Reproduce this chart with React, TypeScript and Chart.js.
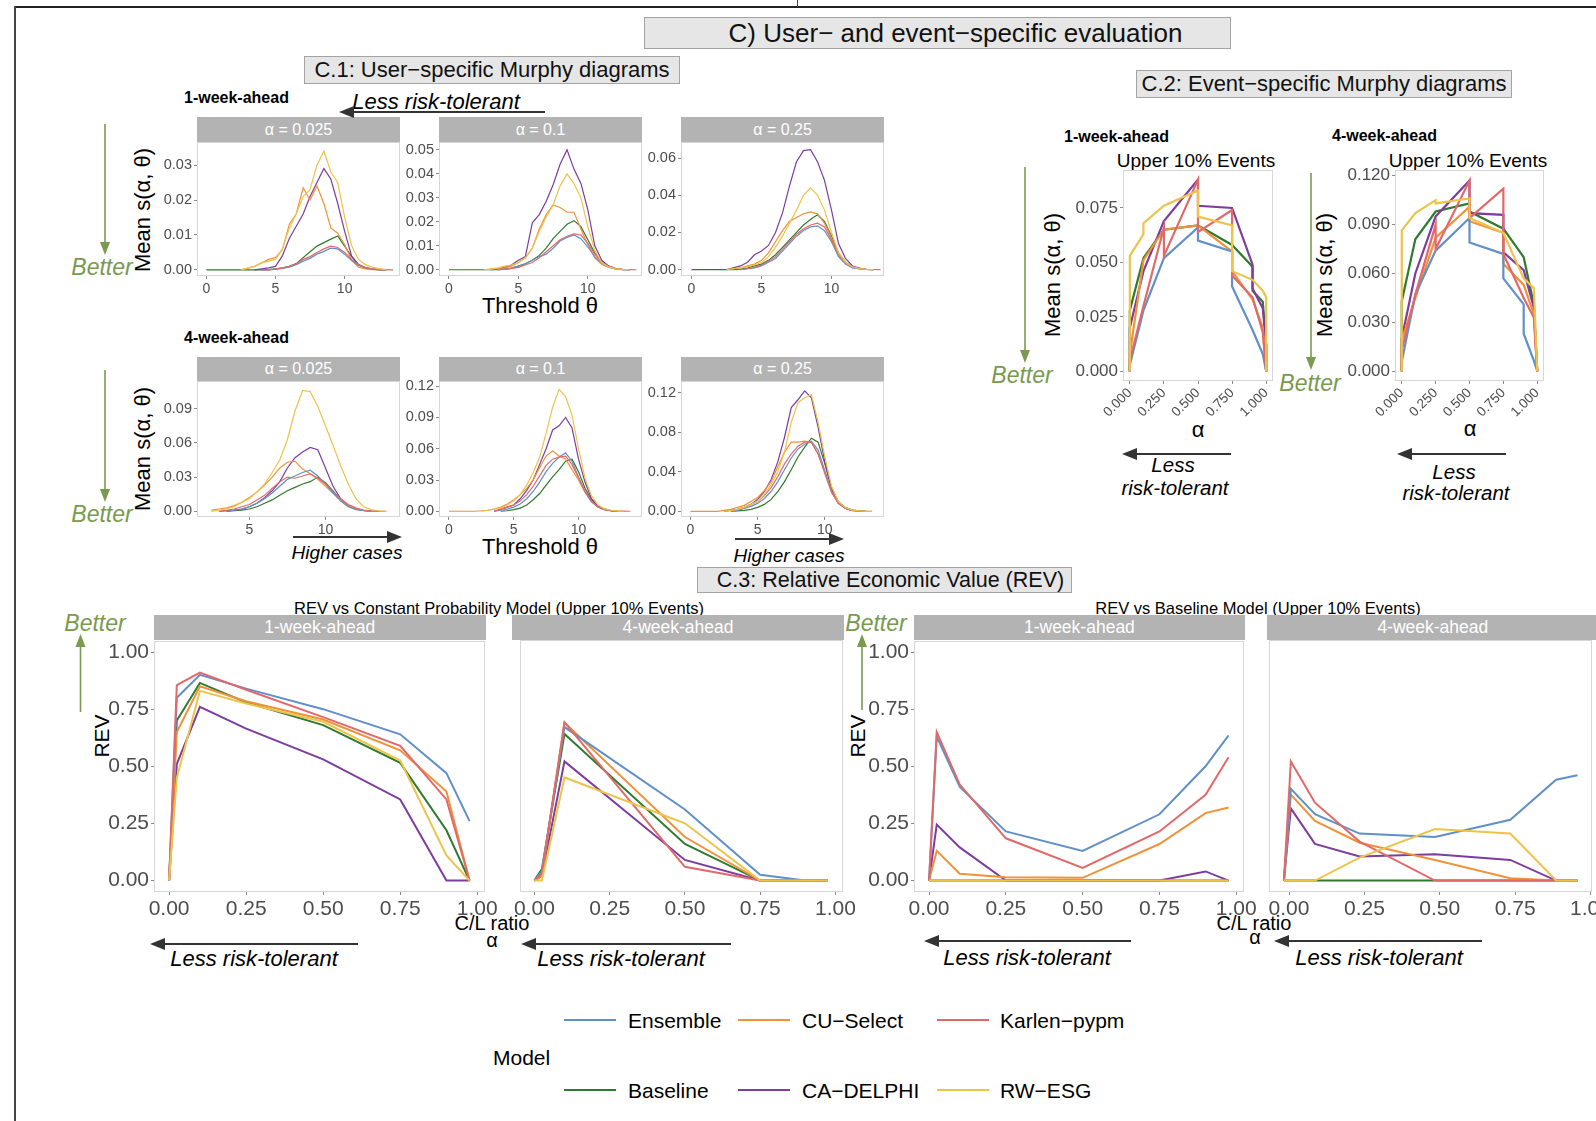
import React, { useEffect, useRef } from "react";
import { Chart, registerables } from "chart.js";
Chart.register(...registerables);

const FONT = "'Liberation Sans', Arial, Helvetica, sans-serif";
const TICK_COLOR = "#4d4d4d";
const GREEN = "#7a9a4f";
const DARK = "#333333";
const _ = null;

// ---------- models ----------
const MODELS = ["Ensemble", "CU-Select", "Karlen-pypm", "Baseline", "CA-DELPHI", "RW-ESG"];
const MODEL_COLORS = ["#6190c8", "#f0923a", "#e2696a", "#2f7a2f", "#7d3c9e", "#eec34a"];
// drawing priority (first = on top)
const DRAW_ORDER = ["RW-ESG", "Karlen-pypm", "Ensemble", "CU-Select", "CA-DELPHI", "Baseline"];
const LEGEND_ROW1 = ["Ensemble", "CU-Select", "Karlen-pypm"];
const LEGEND_ROW2 = ["Baseline", "CA-DELPHI", "RW-ESG"];

// ---------- C.1 user-specific Murphy diagrams ----------
const THETA = [0, 0.5, 1, 1.5, 2, 2.5, 3, 3.5, 4, 4.5, 5, 5.5, 6, 6.5, 7, 7.5, 8, 8.5, 9, 9.5, 10, 10.5, 11, 11.5, 12, 12.5, 13, 13.5, 14];
const C1_X_TICKS = [0, 5, 10];
const C1_X_TICKS_W4A025 = [5, 10];
const C1_Y_TICKS_W1A025 = [0, 0.01, 0.02, 0.03];
const C1_Y_TICKS_W1A1 = [0, 0.01, 0.02, 0.03, 0.04, 0.05];
const C1_Y_TICKS_W1A25 = [0, 0.02, 0.04, 0.06];
const C1_Y_TICKS_W4A025 = [0, 0.03, 0.06, 0.09];
const C1_Y_TICKS_W4A1 = [0, 0.03, 0.06, 0.09, 0.12];
const C1_Y_TICKS_W4A25 = [0, 0.04, 0.08, 0.12];
const C1_STRIPS = ["α = 0.025", "α = 0.1", "α = 0.25"];

// 1-week, alpha 0.025
const w1a025_ens = [_, _, _, _, _, _, _, _, 0, 0, .0002, .0004, .0008, .0015, .0025, .0033, .0045, .0053, .0062, .006, .0045, .0027, .0013, .0006, .0003, .0001, 0, _, _];
const w1a025_bas = [0, 0, 0, 0, 0, 0, 0, 0, 0, .0001, .0003, .0006, .001, .0018, .0035, .0052, .0068, .0078, .0088, .0097, .0068, .0038, .0015, .0006, .0002, .0001, 0, _, _];
const w1a025_kar = [_, _, _, _, _, _, _, _, 0, 0, .0002, .0005, .001, .0017, .003, .0038, .005, .006, .0068, .0064, .005, .003, .0015, .0007, .0003, .0002, .0001, 0, _];
const w1a025_cu = [_, _, _, _, _, 0, .0005, .001, .002, .003, .0035, .0058, .013, .016, .0235, .02, .024, .019, .012, .0105, .0072, .0028, .0008, .0003, .0001, 0, 0, _, _];
const w1a025_del = [_, _, _, _, _, _, _, 0, .0003, .0006, .001, .004, .009, .0125, .016, .021, .025, .029, .026, .019, .011, .004, .0015, .0005, .0002, 0, 0, _, _];
const w1a025_rw = [_, _, _, _, _, 0, .0005, .001, .002, .0025, .003, .006, .012, .016, .021, .023, .03, .034, .028, .025, .015, .007, .003, .0015, .0008, .0003, .0001, _, _];

// 1-week, alpha 0.1
const w1a1_ens = [_, _, _, _, _, _, _, 0, .0003, .0008, .0015, .0025, .004, .0055, .0065, .009, .012, .0135, .0145, .013, .0095, .0055, .0028, .0012, .0004, .0001, 0, _, _];
const w1a1_bas = [0, 0, 0, 0, 0, 0, 0, 0, .0002, .0006, .0015, .0025, .004, .006, .009, .013, .016, .019, .0205, .018, .0125, .007, .0035, .0015, .0005, .0001, 0, _, _];
const w1a1_kar = [_, _, _, _, _, _, _, 0, .0003, .0006, .001, .002, .003, .005, .0075, .01, .0125, .014, .015, .0145, .011, .0065, .0032, .0013, .0005, .0002, .0001, 0, _];
const w1a1_cu = [_, _, _, _, _, 0, .0003, .0005, .0008, .0015, .003, .005, .009, .017, .023, .027, .026, .024, .024, .017, .0105, .005, .0022, .001, .0004, .0001, 0, _, _];
const w1a1_del = [_, _, _, _, _, _, 0, .0003, .001, .002, .004, .0055, .0196, .023, .0286, .0355, .044, .05, .042, .036, .025, .01, .004, .0015, .0005, .0002, 0, _, _];
const w1a1_rw = [_, _, _, _, _, 0, .0003, .0008, .0015, .002, .003, .005, .009, .016, .022, .027, .035, .04, .036, .03, .018, .008, .003, .0012, .0005, .0002, 0, _, _];

// 1-week, alpha 0.25
const w1a25_ens = [_, _, _, _, _, _, _, 0, .0005, .001, .002, .004, .006, .01, .014, .018, .021, .023, .0235, .021, .015, .007, .003, .001, .0004, .0001, 0, _, _];
const w1a25_bas = [0, 0, 0, 0, 0, 0, 0, .0003, .001, .002, .003, .005, .008, .012, .016, .02, .024, .027, .0295, .026, .018, .009, .004, .0015, .0005, .0001, 0, _, _];
const w1a25_kar = [_, _, _, _, _, _, _, 0, .0005, .0012, .0025, .0045, .007, .011, .015, .019, .022, .024, .025, .023, .016, .008, .0035, .0013, .0005, .0002, .0001, 0, _];
const w1a25_cu = [_, _, _, _, _, 0, .0005, .001, .002, .003, .005, .009, .015, .021, .026, .028, .03, .031, .03, .025, .017, .008, .0035, .0012, .0005, .0001, 0, _, _];
const w1a25_del = [_, _, _, _, _, 0, .001, .002, .004, .008, .01, .013, .02, .0305, .045, .058, .064, .0645, .058, .048, .032, .014, .006, .002, .0008, .0002, 0, _, _];
const w1a25_rw = [_, _, _, _, _, 0, .0005, .001, .0015, .0025, .004, .007, .012, .018, .025, .032, .04, .044, .04, .032, .02, .009, .004, .0015, .0006, .0002, 0, _, _];

// 4-week, alpha 0.025
const w4a025_ens = [_, _, _, _, _, _, _, 0, .001, .002, .004, .007, .011, .016, .022, .028, .031, .034, .036, .031, .024, .016, .009, .004, .0015, .0005, .0001, _, _];
const w4a025_bas = [_, _, _, _, _, _, _, 0, .0005, .001, .002, .004, .007, .01, .014, .018, .021, .024, .026, .03, .025, .018, .01, .005, .002, .0007, .0002, _, _];
const w4a025_kar = [_, _, _, _, _, _, 0, .0008, .002, .004, .006, .01, .014, .02, .026, .03, .029, .031, .033, .029, .024, .017, .011, .006, .003, .001, .0004, .0001, 0];
const w4a025_cu = [_, _, _, _, _, .001, .002, .003, .005, .008, .012, .017, .023, .03, .038, .043, .044, .037, .033, .028, .022, .016, .01, .005, .002, .0008, .0002, 0, _];
const w4a025_del = [_, _, _, _, _, _, 0, .0005, .001, .002, .004, .007, .012, .018, .026, .038, .047, .052, .056, .054, .038, .022, .011, .005, .002, .0008, .0002, 0, _];
const w4a025_rw = [_, _, _, _, _, 0, .001, .002, .004, .008, .011, .017, .024, .034, .045, .063, .088, .106, .105, .092, .075, .058, .04, .024, .011, .004, .0015, .0005, 0];

// 4-week, alpha 0.1
const w4a1_ens = [_, _, _, _, _, _, _, 0, .001, .002, .004, .007, .012, .019, .028, .038, .046, .052, .056, .048, .033, .019, .009, .004, .0015, .0005, 0, _, _];
const w4a1_bas = [_, _, _, _, _, _, _, _, 0, .0005, .0015, .003, .006, .011, .017, .025, .033, .04, .048, .05, .038, .022, .011, .005, .002, .0006, 0, _, _];
const w4a1_kar = [_, _, _, _, _, _, _, 0, .002, .004, .006, .01, .016, .024, .034, .044, .05, .052, .053, .045, .032, .019, .01, .004, .0015, .0005, .0002, .0001, 0];
const w4a1_cu = [0, 0, 0, 0, 0, .0005, .001, .002, .004, .007, .011, .016, .022, .03, .042, .053, .058, .053, .05, .04, .03, .018, .009, .004, .0015, .0005, 0, _, _];
const w4a1_del = [_, _, _, _, _, _, _, 0, .002, .004, .006, .012, .02, .03, .045, .06, .078, .082, .09, .08, .05, .028, .012, .005, .002, .0007, 0, _, _];
const w4a1_rw = [_, _, _, _, _, 0, .001, .002, .003, .006, .01, .016, .025, .037, .052, .075, .1, .117, .11, .092, .06, .032, .015, .006, .0025, .001, .0003, 0, _];

// 4-week, alpha 0.25
const w4a25_ens = [_, _, _, _, _, _, 0, .001, .003, .005, .008, .013, .02, .03, .042, .054, .063, .068, .071, .062, .041, .02, .008, .003, .001, .0003, 0, _, _];
const w4a25_bas = [_, _, _, _, _, _, 0, .0005, .001, .002, .004, .007, .012, .02, .03, .042, .055, .065, .074, .07, .048, .024, .01, .004, .0015, .0005, 0, _, _];
const w4a25_kar = [_, _, _, _, _, 0, .001, .002, .004, .007, .01, .016, .024, .035, .048, .058, .066, .07, .07, .058, .038, .019, .008, .003, .001, .0004, .0001, 0, _];
const w4a25_cu = [0, 0, 0, 0, 0, .001, .002, .004, .006, .01, .014, .021, .03, .045, .06, .07, .07, .071, .07, .058, .04, .02, .009, .003, .001, .0003, 0, _, _];
const w4a25_del = [_, _, _, _, _, 0, .001, .002, .004, .007, .012, .02, .032, .05, .075, .105, .113, .122, .115, .085, .05, .022, .009, .003, .001, .0003, 0, _, _];
const w4a25_rw = [_, _, _, _, _, 0, .001, .002, .004, .007, .01, .017, .027, .04, .06, .09, .11, .115, .118, .09, .055, .025, .01, .004, .0015, .0005, .0001, 0, _];

// ---------- C.2 event-specific Murphy diagrams (alpha, mean score) ----------
const C2_X_TICKS = [0, 0.25, 0.5, 0.75, 1];
const C2_Y_TICKS_W1 = [0, 0.025, 0.05, 0.075];
const C2_Y_TICKS_W4 = [0, 0.03, 0.06, 0.09, 0.12];

const c2w1_ens_a = [0, 0, 0.1, 0.25, 0.5, 0.5, 0.75, 0.75, 0.9, 0.975, 1];
const c2w1_ens_v = [0, 0.003, 0.028, 0.052, 0.066, 0.06, 0.055, 0.039, 0.019, 0.008, 0];
const c2w1_bas_a = [0, 0, 0.1, 0.25, 0.5, 0.75, 0.9, 0.9, 0.975, 1, 1];
const c2w1_bas_v = [0, 0.028, 0.052, 0.065, 0.067, 0.058, 0.048, 0.037, 0.032, 0.012, 0];
const c2w1_del_a = [0, 0, 0.1, 0.25, 0.5, 0.5, 0.75, 0.9, 0.9, 0.975, 1, 1];
const c2w1_del_v = [0, 0.02, 0.046, 0.069, 0.088, 0.076, 0.075, 0.049, 0.038, 0.029, 0.012, 0];
const c2w1_kar_a = [0, 0, 0.1, 0.25, 0.25, 0.5, 0.5, 0.75, 0.75, 0.9, 0.975, 1];
const c2w1_kar_v = [0, 0.005, 0.03, 0.066, 0.053, 0.088, 0.064, 0.074, 0.044, 0.034, 0.018, 0];
const c2w1_cu_a = [0, 0, 0.1, 0.25, 0.5, 0.75, 0.75, 0.9, 0.975, 1];
const c2w1_cu_v = [0, 0.008, 0.051, 0.065, 0.067, 0.055, 0.046, 0.033, 0.02, 0];
const c2w1_rw_a = [0, 0, 0.1, 0.1, 0.25, 0.5, 0.5, 0.75, 0.75, 0.9, 0.975, 1, 1];
const c2w1_rw_v = [0, 0.053, 0.063, 0.068, 0.076, 0.083, 0.071, 0.067, 0.046, 0.042, 0.037, 0.034, 0];

const c2w4_ens_a = [0, 0, 0.1, 0.25, 0.5, 0.5, 0.75, 0.75, 0.9, 0.9, 0.975, 1];
const c2w4_ens_v = [0, 0.006, 0.047, 0.074, 0.094, 0.079, 0.072, 0.057, 0.041, 0.023, 0.0065, 0];
const c2w4_bas_a = [0, 0, 0.1, 0.25, 0.5, 0.5, 0.75, 0.9, 0.975, 1];
const c2w4_bas_v = [0, 0.043, 0.081, 0.098, 0.103, 0.098, 0.0875, 0.07, 0.041, 0];
const c2w4_del_a = [0, 0, 0.1, 0.25, 0.5, 0.5, 0.75, 0.75, 0.9, 0.975, 1];
const c2w4_del_v = [0, 0.02, 0.06, 0.095, 0.117, 0.097, 0.096, 0.073, 0.062, 0.039, 0];
const c2w4_kar_a = [0, 0, 0.1, 0.25, 0.25, 0.5, 0.5, 0.75, 0.75, 0.9, 0.975, 1];
const c2w4_kar_v = [0, 0.013, 0.047, 0.09, 0.075, 0.117, 0.094, 0.112, 0.072, 0.045, 0.033, 0];
const c2w4_cu_a = [0, 0, 0.1, 0.25, 0.5, 0.5, 0.75, 0.75, 0.9, 0.975, 1];
const c2w4_cu_v = [0, 0.019, 0.045, 0.082, 0.101, 0.092, 0.085, 0.066, 0.053, 0.035, 0];
const c2w4_rw_a = [0, 0, 0.1, 0.25, 0.25, 0.5, 0.5, 0.75, 0.9, 0.975, 1];
const c2w4_rw_v = [0, 0.0865, 0.097, 0.105, 0.103, 0.106, 0.094, 0.085, 0.057, 0.051, 0];

// ---------- C.3 Relative Economic Value ----------
const C3_TICKS = [0, 0.25, 0.5, 0.75, 1];
const C3_STRIPS = ["1-week-ahead", "4-week-ahead"];
const REV_ALPHA = [0, 0.025, 0.1, 0.25, 0.5, 0.75, 0.9, 0.975];
const REV_ALPHA_CONST_W4 = [0, 0.025, 0.1, 0.5, 0.75, 0.9, 0.975];
const REV_ALPHA_BASE_W4 = [-0.017, 0.006, 0.086, 0.234, 0.484, 0.734, 0.886, 0.957];

const revc_w1_ens = [0, 0.8, 0.9, 0.84, 0.75, 0.64, 0.47, 0.26];
const revc_w1_bas = [0, 0.7, 0.865, 0.78, 0.68, 0.515, 0.22, 0];
const revc_w1_del = [0, 0.51, 0.76, 0.665, 0.53, 0.355, 0, 0];
const revc_w1_kar = [0, 0.855, 0.91, 0.835, 0.715, 0.59, 0.355, 0];
const revc_w1_cu = [0, 0.65, 0.85, 0.785, 0.705, 0.57, 0.39, 0];
const revc_w1_rw = [0, 0.45, 0.83, 0.775, 0.695, 0.525, 0.11, 0];

const revc_w4_ens = [0, 0.04, 0.67, 0.31, 0.025, 0, 0];
const revc_w4_bas = [0, 0.05, 0.64, 0.16, 0, 0, 0];
const revc_w4_del = [0, 0.02, 0.52, 0.09, 0, 0, 0];
const revc_w4_kar = [0, 0.03, 0.69, 0.06, 0, 0, 0];
const revc_w4_cu = [0, 0.02, 0.69, 0.19, 0, 0, 0];
const revc_w4_rw = [0, 0, 0.45, 0.25, 0, 0, 0];

const revb_w1_ens = [0, 0.63, 0.41, 0.215, 0.13, 0.29, 0.5, 0.635];
const revb_w1_bas = [0, 0, 0, 0, 0, 0, 0, 0];
const revb_w1_del = [0, 0.245, 0.145, 0, 0, 0, 0.04, 0];
const revb_w1_kar = [0, 0.65, 0.42, 0.185, 0.055, 0.215, 0.375, 0.54];
const revb_w1_cu = [0, 0.13, 0.03, 0.015, 0.012, 0.16, 0.295, 0.32];
const revb_w1_rw = [0, 0, 0, 0, 0, 0, 0, 0];

const revb_w4_ens = [0, 0.4, 0.29, 0.205, 0.19, 0.265, 0.44, 0.46];
const revb_w4_bas = [0, 0, 0, 0, 0, 0, 0, 0];
const revb_w4_del = [0, 0.315, 0.16, 0.105, 0.115, 0.09, 0, 0];
const revb_w4_kar = [0, 0.52, 0.34, 0.17, 0, 0, 0, 0];
const revb_w4_cu = [0, 0.375, 0.26, 0.165, 0.09, 0.01, 0, 0];
const revb_w4_rw = [0, 0, 0, 0.1, 0.225, 0.205, 0, 0];

// ---------- helpers ----------
const colorOf = (name) => MODEL_COLORS[MODELS.indexOf(name)];

function series(byModel) {
  return DRAW_ORDER.map((name) => ({ name, xs: byModel[name][0], ys: byModel[name][1] }));
}
function sameX(xs, ens, cu, kar, bas, del, rw) {
  return series({
    "Ensemble": [xs, ens], "CU-Select": [xs, cu], "Karlen-pypm": [xs, kar],
    "Baseline": [xs, bas], "CA-DELPHI": [xs, del], "RW-ESG": [xs, rw],
  });
}

const framePlugin = {
  id: "frame",
  beforeDatasetsDraw(chart) {
    const { ctx, chartArea } = chart;
    ctx.save();
    ctx.strokeStyle = "#d6d6d6";
    ctx.lineWidth = 1;
    ctx.strokeRect(Math.round(chartArea.left) + 0.5, Math.round(chartArea.top) + 0.5,
      Math.round(chartArea.right - chartArea.left) - 1, Math.round(chartArea.bottom - chartArea.top) - 1);
    ctx.restore();
  },
};

const PAD = 14;

function PlotPanel(p) {
  const ref = useRef(null);
  const L = Math.round(p.box[0]), T = Math.round(p.box[1]), R = Math.round(p.box[2]), B = Math.round(p.box[3]);
  const yW = p.showY ? p.yW : 0;
  const cl = L - yW, ct = T - PAD, cw = yW + (R - L) + PAD, ch = PAD + (B - T) + p.xH;
  useEffect(() => {
    const tickGrid = { display: true, drawOnChartArea: false, drawTicks: true, tickLength: 3, color: "#8a8a8a", lineWidth: 1 };
    const chart = new Chart(ref.current, {
      type: "line",
      data: {
        datasets: p.series.map((s) => ({
          label: s.name,
          data: s.xs.map((x, i) => ({ x, y: s.ys[i] })),
          borderColor: colorOf(s.name),
          backgroundColor: colorOf(s.name),
          borderWidth: p.lw,
          pointRadius: 0,
          tension: 0,
          fill: false,
          spanGaps: false,
        })),
      },
      options: {
        animation: false,
        responsive: false,
        maintainAspectRatio: false,
        events: [],
        layout: { autoPadding: false, padding: { left: 0, top: PAD, right: PAD, bottom: 0 } },
        plugins: { legend: { display: false }, tooltip: { enabled: false }, title: { display: false } },
        scales: {
          x: {
            type: "linear",
            min: p.xMin,
            max: p.xMax,
            afterBuildTicks: (s) => { s.ticks = p.xTicks.map((v) => ({ value: v })); },
            afterFit: (s) => { s.height = p.xH; },
            grid: tickGrid,
            border: { display: false },
            ticks: {
              autoSkip: false,
              padding: p.xPad ?? 2,
              color: TICK_COLOR,
              font: { family: FONT, size: p.xFont },
              minRotation: p.rot || 0,
              maxRotation: p.rot || 0,
              callback: (v) => Number(v).toFixed(p.xDec),
            },
          },
          y: {
            type: "linear",
            display: !!p.showY,
            min: p.yMin,
            max: p.yMax,
            afterBuildTicks: (s) => { s.ticks = p.yTicks.map((v) => ({ value: v })); },
            afterFit: (s) => { s.width = yW; },
            grid: tickGrid,
            border: { display: false },
            ticks: {
              autoSkip: false,
              padding: 2,
              color: TICK_COLOR,
              font: { family: FONT, size: p.yFont },
              callback: (v) => Number(v).toFixed(p.yDec),
            },
          },
        },
      },
      plugins: [framePlugin],
    });
    return () => chart.destroy();
  }, []);
  return (
    <canvas ref={ref} width={cw} height={ch}
      style={{ position: "absolute", left: cl, top: ct, width: cw, height: ch }} />
  );
}

function Txt({ x, y, size, children, anchor = "middle", weight = "normal", italic = false, color = "#000", rotate = 0, family = FONT }) {
  const tx = anchor === "middle" ? "-50%" : anchor === "end" ? "-100%" : "0";
  return (
    <div style={{
      position: "absolute", left: x, top: y,
      transform: `translate(${tx},-50%)` + (rotate ? ` rotate(${rotate}deg)` : ""),
      fontSize: size, fontWeight: weight, fontStyle: italic ? "italic" : "normal",
      color, whiteSpace: "nowrap", lineHeight: 1, fontFamily: family,
    }}>{children}</div>
  );
}

function Box({ l, t, r, b, size, shift = 0, children }) {
  return (
    <div style={{
      position: "absolute", left: l, top: t, width: r - l, height: b - t, boxSizing: "border-box",
      background: "#e6e6e6", border: "1px solid #a3a3a3", display: "flex", alignItems: "center",
      justifyContent: "center", fontSize: size, color: "#111", whiteSpace: "nowrap",
      paddingLeft: shift > 0 ? shift * 2 : 0,
    }}>{children}</div>
  );
}

function Strip({ l, t, r, b, size, children }) {
  return (
    <div style={{
      position: "absolute", left: l, top: t, width: r - l, height: b - t, background: "#b3b3b3",
      color: "#fff", display: "flex", alignItems: "center", justifyContent: "center",
      fontSize: size, whiteSpace: "nowrap", overflow: "hidden",
    }}>{children}</div>
  );
}

function Arrow({ x1, y1, x2, y2, color, w, head, headW }) {
  const dx = x2 - x1, dy = y2 - y1, len = Math.hypot(dx, dy);
  const ux = dx / len, uy = dy / len;
  const bx = x2 - ux * head, by = y2 - uy * head;
  const px = (-uy * headW) / 2, py = (ux * headW) / 2;
  return (
    <g>
      <line x1={x1} y1={y1} x2={bx + ux} y2={by + uy} stroke={color} strokeWidth={w} />
      <polygon points={`${x2},${y2} ${bx + px},${by + py} ${bx - px},${by - py}`} fill={color} />
    </g>
  );
}

// ---------- panel definitions ----------
const C1_ROW1 = { t: 142, b: 276, st: 117 };
const C1_ROW2 = { t: 381, b: 517, st: 357 };
const C1_COLS = [[197, 400], [439, 642], [681, 884]];

const c1Panels = [
  { row: C1_ROW1, col: 0, xMin: -0.67, xMax: 14, yMin: -0.00175, yMax: 0.0366, xTicks: C1_X_TICKS, yTicks: C1_Y_TICKS_W1A025,
    series: sameX(THETA, w1a025_ens, w1a025_cu, w1a025_kar, w1a025_bas, w1a025_del, w1a025_rw) },
  { row: C1_ROW1, col: 1, xMin: -0.72, xMax: 13.9, yMin: -0.0026, yMax: 0.0533, xTicks: C1_X_TICKS, yTicks: C1_Y_TICKS_W1A1,
    series: sameX(THETA, w1a1_ens, w1a1_cu, w1a1_kar, w1a1_bas, w1a1_del, w1a1_rw) },
  { row: C1_ROW1, col: 2, xMin: -0.75, xMax: 13.75, yMin: -0.0034, yMax: 0.0686, xTicks: C1_X_TICKS, yTicks: C1_Y_TICKS_W1A25,
    series: sameX(THETA, w1a25_ens, w1a25_cu, w1a25_kar, w1a25_bas, w1a25_del, w1a25_rw) },
  { row: C1_ROW2, col: 0, xMin: 1.56, xMax: 14.9, yMin: -0.005, yMax: 0.1143, xTicks: C1_X_TICKS_W4A025, yTicks: C1_Y_TICKS_W4A025,
    series: sameX(THETA, w4a025_ens, w4a025_cu, w4a025_kar, w4a025_bas, w4a025_del, w4a025_rw) },
  { row: C1_ROW2, col: 1, xMin: -0.77, xMax: 14.9, yMin: -0.0055, yMax: 0.125, xTicks: C1_X_TICKS, yTicks: C1_Y_TICKS_W4A1,
    series: sameX(THETA, w4a1_ens, w4a1_cu, w4a1_kar, w4a1_bas, w4a1_del, w4a1_rw) },
  { row: C1_ROW2, col: 2, xMin: -0.7, xMax: 14.4, yMin: -0.0058, yMax: 0.132, xTicks: C1_X_TICKS, yTicks: C1_Y_TICKS_W4A25,
    series: sameX(THETA, w4a25_ens, w4a25_cu, w4a25_kar, w4a25_bas, w4a25_del, w4a25_rw) },
];

const c2Panels = [
  { box: [1123, 170, 1273, 381], yMin: -0.0044, yMax: 0.0924, yTicks: C2_Y_TICKS_W1,
    series: series({
      "Ensemble": [c2w1_ens_a, c2w1_ens_v], "CU-Select": [c2w1_cu_a, c2w1_cu_v], "Karlen-pypm": [c2w1_kar_a, c2w1_kar_v],
      "Baseline": [c2w1_bas_a, c2w1_bas_v], "CA-DELPHI": [c2w1_del_a, c2w1_del_v], "RW-ESG": [c2w1_rw_a, c2w1_rw_v],
    }) },
  { box: [1395, 170, 1544, 381], yMin: -0.006, yMax: 0.1235, yTicks: C2_Y_TICKS_W4,
    series: series({
      "Ensemble": [c2w4_ens_a, c2w4_ens_v], "CU-Select": [c2w4_cu_a, c2w4_cu_v], "Karlen-pypm": [c2w4_kar_a, c2w4_kar_v],
      "Baseline": [c2w4_bas_a, c2w4_bas_v], "CA-DELPHI": [c2w4_del_a, c2w4_del_v], "RW-ESG": [c2w4_rw_a, c2w4_rw_v],
    }) },
];

const C3_T = 640, C3_B = 892, C3_ST = 615;
const c3Panels = [
  { l: 154, r: 485.5, showY: true, xMin: -0.049, xMax: 1.024, strip: C3_STRIPS[0],
    series: sameX(REV_ALPHA, revc_w1_ens, revc_w1_cu, revc_w1_kar, revc_w1_bas, revc_w1_del, revc_w1_rw) },
  { l: 512.3, r: 843.8, showY: false, xMin: -0.049, xMax: 1.024, strip: C3_STRIPS[1],
    series: sameX(REV_ALPHA_CONST_W4, revc_w4_ens, revc_w4_cu, revc_w4_kar, revc_w4_bas, revc_w4_del, revc_w4_rw) },
  { l: 913.8, r: 1245, showY: true, xMin: -0.049, xMax: 1.024, strip: C3_STRIPS[0],
    series: sameX(REV_ALPHA, revb_w1_ens, revb_w1_cu, revb_w1_kar, revb_w1_bas, revb_w1_del, revb_w1_rw) },
  { l: 1267.2, r: 1598.5, showY: false, xMin: -0.066, xMax: 1.007, strip: C3_STRIPS[1],
    series: sameX(REV_ALPHA_BASE_W4, revb_w4_ens, revb_w4_cu, revb_w4_kar, revb_w4_bas, revb_w4_del, revb_w4_rw) },
];

export default function App() {
  const blackArrow = { color: DARK, w: 2.2, head: 15, headW: 12 };
  const greenArrow = { color: GREEN, w: 1.6, head: 13, headW: 10 };
  return (
    <div style={{ position: "absolute", left: 0, top: 0, width: 1596, height: 1121, overflow: "hidden", background: "#fff", fontFamily: FONT, color: "#000" }}>
      {/* frame */}
      <div style={{ position: "absolute", left: 14, top: 6, width: 1582, height: 2, background: "#222" }} />
      <div style={{ position: "absolute", left: 14, top: 6, width: 1.5, height: 1115, background: "#444" }} />
      <div style={{ position: "absolute", left: 797, top: 0, width: 1, height: 7, background: "#444" }} />

      {/* titles */}
      <Box l={644} t={17} r={1231} b={49} size={26} shift={18}>C) User− and event−specific evaluation</Box>
      <Box l={304} t={56} r={680} b={84} size={22}>C.1: User−specific Murphy diagrams</Box>
      <Box l={1136} t={70} r={1512} b={98} size={22}>C.2: Event−specific Murphy diagrams</Box>
      <Box l={697} t={567} r={1072} b={593} size={21.5} shift={6}>C.3: Relative Economic Value (REV)</Box>

      {/* ---- C.1 ---- */}
      <Txt x={184} y={98} size={16} anchor="start" weight="bold">1-week-ahead</Txt>
      <Txt x={184} y={338} size={16} anchor="start" weight="bold">4-week-ahead</Txt>
      <Txt x={436} y={102} size={22} italic>Less risk-tolerant</Txt>
      <Txt x={102} y={267} size={23} italic color={GREEN}>Better</Txt>
      <Txt x={102} y={514} size={23} italic color={GREEN}>Better</Txt>
      <Txt x={143} y={210} size={22} rotate={-90}>Mean s(α, θ)</Txt>
      <Txt x={143} y={449} size={22} rotate={-90}>Mean s(α, θ)</Txt>
      <Txt x={540} y={306} size={22}>Threshold θ</Txt>
      <Txt x={540} y={547} size={22}>Threshold θ</Txt>
      <Txt x={347} y={552} size={19} italic>Higher cases</Txt>
      <Txt x={789} y={555} size={19} italic>Higher cases</Txt>
      {c1Panels.map((p, i) => (
        <Strip key={"s1" + i} l={C1_COLS[p.col][0]} t={p.row.st} r={C1_COLS[p.col][1]} b={p.row.t} size={16}>{C1_STRIPS[p.col]}</Strip>
      ))}
      {c1Panels.map((p, i) => (
        <PlotPanel key={"p1" + i} box={[C1_COLS[p.col][0], p.row.t, C1_COLS[p.col][1], p.row.b]} showY yW={46} xH={22}
          xMin={p.xMin} xMax={p.xMax} yMin={p.yMin} yMax={p.yMax} xTicks={p.xTicks} yTicks={p.yTicks}
          xDec={0} yDec={2} xFont={14} yFont={14.5} lw={1.2} series={p.series} />
      ))}

      {/* ---- C.2 ---- */}
      <Txt x={1064} y={137} size={16} anchor="start" weight="bold">1-week-ahead</Txt>
      <Txt x={1332} y={136} size={16} anchor="start" weight="bold">4-week-ahead</Txt>
      <Txt x={1196} y={160} size={19} >Upper 10% Events</Txt>
      <Txt x={1468} y={160} size={19}>Upper 10% Events</Txt>
      <Txt x={1053} y={275} size={22} rotate={-90}>Mean s(α, θ)</Txt>
      <Txt x={1325} y={275} size={22} rotate={-90}>Mean s(α, θ)</Txt>
      <Txt x={1022} y={375} size={23} italic color={GREEN}>Better</Txt>
      <Txt x={1310} y={383} size={23} italic color={GREEN}>Better</Txt>
      <Txt x={1198} y={430} size={22}>α</Txt>
      <Txt x={1470} y={429} size={22}>α</Txt>
      <Txt x={1173} y={465} size={20.5} italic>Less</Txt>
      <Txt x={1175} y={488} size={20.5} italic>risk-tolerant</Txt>
      <Txt x={1454} y={472} size={20.5} italic>Less</Txt>
      <Txt x={1456} y={493} size={20.5} italic>risk-tolerant</Txt>
      {c2Panels.map((p, i) => (
        <PlotPanel key={"p2" + i} box={p.box} showY yW={58} xH={52} rot={45} xPad={1}
          xMin={-0.05} xMax={1.05} yMin={p.yMin} yMax={p.yMax} xTicks={C2_X_TICKS} yTicks={p.yTicks}
          xDec={3} yDec={3} xFont={13.5} yFont={17} lw={2.2} series={p.series} />
      ))}

      {/* ---- C.3 ---- */}
      <Txt x={499} y={608} size={16.5}>REV vs Constant Probability Model (Upper 10% Events)</Txt>
      <Txt x={1258} y={608} size={16.5}>REV vs Baseline Model (Upper 10% Events)</Txt>
      <Txt x={95} y={623} size={23} italic color={GREEN}>Better</Txt>
      <Txt x={876} y={623} size={23} italic color={GREEN}>Better</Txt>
      <Txt x={101} y={736} size={21} rotate={-90}>REV</Txt>
      <Txt x={857} y={736} size={21} rotate={-90}>REV</Txt>
      <Txt x={492} y={923} size={20}>C/L ratio</Txt>
      <Txt x={492} y={940} size={20}>α</Txt>
      <Txt x={1254} y={923} size={20}>C/L ratio</Txt>
      <Txt x={1255} y={937} size={20}>α</Txt>
      <Txt x={254} y={959} size={22} italic>Less risk-tolerant</Txt>
      <Txt x={621} y={959} size={22} italic>Less risk-tolerant</Txt>
      <Txt x={1027} y={958} size={22} italic>Less risk-tolerant</Txt>
      <Txt x={1379} y={958} size={22} italic>Less risk-tolerant</Txt>
      {c3Panels.map((p, i) => (
        <Strip key={"s3" + i} l={p.l} t={C3_ST} r={p.r} b={C3_T} size={17.5}>{p.strip}</Strip>
      ))}
      {c3Panels.map((p, i) => (
        <PlotPanel key={"p3" + i} box={[p.l, C3_T, p.r, C3_B]} showY={p.showY} yW={52} xH={32}
          xMin={p.xMin} xMax={p.xMax} yMin={-0.05} yMax={1.05} xTicks={C3_TICKS} yTicks={C3_TICKS}
          xDec={2} yDec={2} xFont={21} yFont={21} lw={2} series={p.series} />
      ))}

      {/* ---- legend ---- */}
      <Txt x={493} y={1057} size={21} anchor="start">Model</Txt>
      {[LEGEND_ROW1, LEGEND_ROW2].map((row, ri) =>
        row.map((name, ci) => {
          const keyX = [564, 738, 937][ci];
          const txtX = [628, 802, 1000][ci];
          const y = ri === 0 ? 1020 : 1090;
          return (
            <React.Fragment key={name}>
              <div style={{ position: "absolute", left: keyX, top: y - 1, width: 52, height: 2, background: colorOf(name) }} />
              <Txt x={txtX} y={y} size={21} anchor="start">{name.replace("-", "−")}</Txt>
            </React.Fragment>
          );
        })
      )}

      {/* arrows */}
      <svg width={1596} height={1121} style={{ position: "absolute", left: 0, top: 0, pointerEvents: "none" }}>
        <Arrow x1={545} y1={112} x2={339} y2={112} {...blackArrow} />
        <Arrow x1={293} y1={537} x2={402} y2={537} {...blackArrow} />
        <Arrow x1={735} y1={539} x2={844} y2={539} {...blackArrow} />
        <Arrow x1={105} y1={124} x2={105} y2={255} {...greenArrow} />
        <Arrow x1={105} y1={370} x2={105} y2={502} {...greenArrow} />
        <Arrow x1={1025} y1={167} x2={1025} y2={363} {...greenArrow} />
        <Arrow x1={1311} y1={173} x2={1311} y2={370} {...greenArrow} />
        <Arrow x1={1231} y1={454} x2={1122} y2={454} {...blackArrow} />
        <Arrow x1={1506} y1={454} x2={1397} y2={454} {...blackArrow} />
        <Arrow x1={80.5} y1={712} x2={80.5} y2={634} {...greenArrow} />
        <Arrow x1={862} y1={710} x2={862} y2={634} {...greenArrow} />
        <Arrow x1={358} y1={944} x2={150} y2={944} {...blackArrow} />
        <Arrow x1={731} y1={944} x2={521} y2={944} {...blackArrow} />
        <Arrow x1={1131} y1={941} x2={924} y2={941} {...blackArrow} />
        <Arrow x1={1482} y1={941} x2={1274} y2={941} {...blackArrow} />
      </svg>
    </div>
  );
}
